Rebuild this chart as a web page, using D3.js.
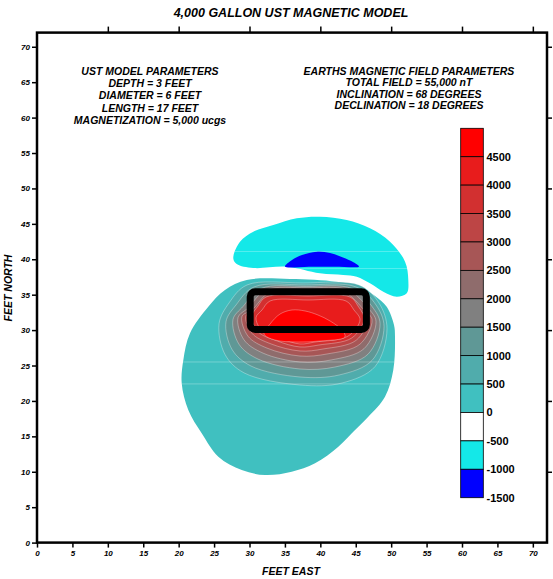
<!DOCTYPE html>
<html>
<head>
<meta charset="utf-8">
<script src="https://cdn.jsdelivr.net/npm/d3@7"></script>
<style>
body{margin:0;background:#fff;}
svg{display:block;font-family:'Liberation Sans',Arial,sans-serif;}
</style>
</head>
<body>
<div class="canvas"></div>
<script>
//texts
const title = '4,000 GALLON UST MAGNETIC MODEL';
const ustParams = ['UST MODEL PARAMETERS','DEPTH = 3 FEET','DIAMETER = 6 FEET','LENGTH = 17 FEET','MAGNETIZATION = 5,000 ucgs'];
const fieldParams = ['EARTHS MAGNETIC FIELD PARAMETERS','TOTAL FIELD = 55,000 nT','INCLINATION = 68 DEGREES','DECLINATION = 18 DEGREES'];

//axis ticks (feet)
const feetTicks = [0,5,10,15,20,25,30,35,40,45,50,55,60,65,70];
const tenTicks = [10,20,30,40,50,60,70];

//colour scale, top to bottom (nT)
const legendValues = [4500,4000,3500,3000,2500,2000,1500,1000,500,0,-500,-1000,-1500];
const legendColors = ['#ff0000','#e81c1c','#d23030','#bd4545','#a75656','#8f6c6c','#808080','#5f9896','#50acac','#40c0c0','#ffffff','#14e8e8','#0000ff'];

//contour outlines [feet east, feet north]
const contour0 = [[20.43,22.49],[20.66,25.78],[21.60,29.55],[24.18,33.30],[26.54,35.66],[29.61,37.07],[35.72,37.22],[42.31,36.83],[45.60,36.09],[47.72,34.82],[49.37,33.30],[50.40,30.72],[50.54,29.07],[50.30,24.37],[49.13,20.60],[46.77,17.77],[44.90,15.90],[42.54,13.54],[39.25,11.20],[35.96,10.01],[32.19,9.54],[28.90,10.25],[25.60,12.13],[23.25,15.43],[21.36,18.72]];
const contourNeg500 = [[27.71,40.14],[28.66,42.48],[30.54,43.89],[33.36,44.84],[36.67,45.79],[39.95,46.01],[43.72,45.55],[47.01,44.37],[49.84,42.48],[51.96,39.66],[52.42,37.07],[52.20,35.20],[50.78,34.72],[48.89,35.43],[47.01,36.61],[45.14,37.54],[43.24,37.78],[39.95,38.02],[35.25,38.95],[30.54,38.77],[28.19,39.33]];
const contourNeg1000 = [[35.01,38.98],[36.00,39.90],[37.41,40.60],[39.49,41.07],[41.37,40.89],[43.20,40.25],[44.61,39.62],[45.46,38.98],[42.00,38.96],[38.40,38.96]];
const contour500 = [[27.11,33.83],[29.65,36.37],[37.55,36.65],[45.46,36.37],[48.28,33.83],[49.41,30.17],[47.72,24.85],[43.06,22.53],[37.13,22.25],[29.22,23.97],[26.54,26.57],[25.70,30.89]];
const contour1000 = [[28.10,33.55],[30.64,36.09],[37.84,36.37],[45.04,36.09],[47.86,33.55],[48.99,30.52],[47.30,25.72],[42.64,23.66],[37.13,23.38],[30.21,24.93],[27.53,27.28],[26.68,31.17]];
const contour1500 = [[29.08,33.33],[31.63,35.87],[38.05,36.16],[44.47,35.87],[47.30,33.33],[48.43,30.92],[46.73,26.60],[42.07,24.79],[37.13,24.51],[31.20,25.91],[28.52,28.00],[27.67,31.50]];
const contour2000 = [[29.79,33.12],[32.33,35.66],[38.12,35.95],[43.91,35.66],[46.73,33.12],[47.86,31.24],[46.17,27.38],[41.51,25.78],[37.13,25.50],[31.91,26.75],[29.22,28.63],[28.38,31.77]];
const contour2500 = [[30.35,32.84],[32.90,35.38],[38.12,35.66],[43.34,35.38],[46.17,32.84],[47.30,31.47],[45.60,28.02],[40.94,26.63],[37.13,26.34],[32.47,27.46],[29.79,29.14],[28.94,31.94]];
const contour3000 = [[30.92,32.70],[33.46,35.10],[38.12,35.38],[42.78,35.10],[45.60,32.70],[46.73,31.63],[45.04,28.55],[40.38,27.33],[37.13,27.05],[33.04,28.05],[30.35,29.55],[29.51,32.05]];
const contour3500 = [[31.20,33.40],[32.33,34.67],[38.26,34.82],[44.19,34.67],[45.32,33.40],[46.17,31.57],[44.47,28.91],[39.81,27.90],[37.13,27.62],[33.88,28.48],[31.20,29.78],[30.35,31.94]];
const contour4000 = [[31.77,32.84],[32.90,34.11],[38.26,34.25],[43.63,34.11],[44.75,32.84],[45.60,31.46],[43.91,29.15],[39.25,28.32],[37.13,28.04],[34.45,28.79],[31.77,29.90],[30.92,31.77]];
const contour4500 = [[32.05,29.45],[32.90,30.86],[34.31,32.27],[36.00,32.84],[37.84,32.70],[39.67,32.13],[41.37,31.29],[43.06,30.01],[43.48,29.03],[39.95,28.46],[36.85,28.32],[33.60,28.60]];

//faint grid seams in the fill (feet north)
const seamNorth = [41.1, 38.7, 25.5, 22.4];

//tank outline (feet)
const tankEast = [30.1, 46.5];
const tankNorth = [30.1, 35.4];

const W = 553, H = 579;

var svg = d3.select('.canvas')
	.append('svg')
	.attr('width',W)
	.attr('height',H);

var x = d3.scaleLinear().domain([0,72]).range([37,547]);
var y = d3.scaleLinear().domain([0,72]).range([542.6,32.6]);

var shape = d3.line()
	.x(d=>x(d[0]))
	.y(d=>y(d[1]))
	.curve(d3.curveCatmullRomClosed.alpha(0.5));

//filled contours, lowest first
var fills = [
	{pts:contour0, color:legendColors[9], edge:false},
	{pts:contourNeg500, color:legendColors[11], edge:false},
	{pts:contourNeg1000, color:legendColors[12], edge:false},
	{pts:contour500, color:legendColors[8], edge:true},
	{pts:contour1000, color:legendColors[7], edge:true},
	{pts:contour1500, color:legendColors[6], edge:true},
	{pts:contour2000, color:legendColors[5], edge:true},
	{pts:contour2500, color:legendColors[4], edge:true},
	{pts:contour3000, color:legendColors[3], edge:true},
	{pts:contour3500, color:legendColors[2], edge:true},
	{pts:contour4000, color:legendColors[1], edge:true},
	{pts:contour4500, color:legendColors[0], edge:true}
];

svg.append('g')
	.attr('id','contours')
	.selectAll('path')
	.data(fills)
	.enter()
	.append('path')
	.attr('d',d=>shape(d.pts))
	.style('fill',d=>d.color)
	.style('stroke',d=>d.edge ? 'rgba(255,255,255,0.45)' : 'none')
	.style('stroke-width',0.7);

//seams, only where there is fill
var clip = svg.append('clipPath').attr('id','fillclip');
clip.append('path').attr('d',shape(contour0));
clip.append('path').attr('d',shape(contourNeg500));

svg.append('g')
	.attr('clip-path','url(#fillclip)')
	.selectAll('line')
	.data(seamNorth)
	.enter()
	.append('line')
	.attr('x1',x(15))
	.attr('x2',x(60))
	.attr('y1',d=>y(d))
	.attr('y2',d=>y(d))
	.style('stroke','rgba(255,255,255,0.35)')
	.style('stroke-width',0.8);

//tank
svg.append('rect')
	.attr('x',x(tankEast[0]))
	.attr('y',y(tankNorth[1]))
	.attr('width',x(tankEast[1])-x(tankEast[0]))
	.attr('height',y(tankNorth[0])-y(tankNorth[1]))
	.attr('rx',5)
	.style('fill','none')
	.style('stroke','#000')
	.style('stroke-width',7);

//axes
function styleAxis(g){
	g.select('.domain').remove();
	g.selectAll('.tick line').style('stroke','#000').style('stroke-width',1.5);
	g.selectAll('.tick text')
		.style('font-family',"'Liberation Sans',Arial,sans-serif")
		.style('font-size','8px')
		.style('font-style','italic')
		.style('font-weight','bold')
		.style('fill','#000');
}

svg.append('g')
	.attr('transform',`translate(0,${y(0)})`)
	.call(d3.axisBottom(x).tickValues(feetTicks).tickSize(5).tickPadding(3))
	.call(styleAxis);

svg.append('g')
	.attr('transform',`translate(${x(0)},0)`)
	.call(d3.axisLeft(y).tickValues(feetTicks).tickSize(5).tickPadding(2))
	.call(styleAxis);

svg.append('g')
	.attr('transform',`translate(0,${y(72)})`)
	.call(d3.axisTop(x).tickValues(tenTicks).tickSize(6).tickFormat(''))
	.call(styleAxis);

svg.append('g')
	.attr('transform',`translate(${x(72)},0)`)
	.call(d3.axisRight(y).tickValues(tenTicks).tickSize(5).tickFormat(''))
	.call(styleAxis);

//frame
svg.append('rect')
	.attr('x',x(0))
	.attr('y',y(72))
	.attr('width',x(72)-x(0))
	.attr('height',y(0)-y(72))
	.style('fill','none')
	.style('stroke','#000')
	.style('stroke-width',2.5);

//colour bar
var cb = d3.scaleLinear().domain([5000,-1500]).range([128.3,497.7]);
var cbar = svg.append('g').attr('id','colorbar');
cbar.selectAll('rect')
	.data(legendValues)
	.enter()
	.append('rect')
	.attr('x',460.7)
	.attr('y',d=>cb(d+500))
	.attr('width',22.6)
	.attr('height',d=>cb(d)-cb(d+500))
	.style('fill',(d,i)=>legendColors[i])
	.style('stroke','#000')
	.style('stroke-width',0.8);
cbar.selectAll('text')
	.data(legendValues)
	.enter()
	.append('text')
	.attr('x',486.5)
	.attr('y',d=>cb(d))
	.attr('dy','0.36em')
	.style('font-size','11px')
	.style('font-weight','bold')
	.text(d=>d);

//titles
svg.append('text')
	.attr('x',291)
	.attr('y',17)
	.attr('text-anchor','middle')
	.style('font-size','12.5px')
	.style('font-weight','bold')
	.style('font-style','italic')
	.text(title);

svg.append('g')
	.selectAll('text')
	.data(ustParams)
	.enter()
	.append('text')
	.attr('x',150)
	.attr('y',(d,i)=>75+i*12.2)
	.attr('text-anchor','middle')
	.style('font-size','10.5px')
	.style('font-weight','bold')
	.style('font-style','italic')
	.text(d=>d);

svg.append('g')
	.selectAll('text')
	.data(fieldParams)
	.enter()
	.append('text')
	.attr('x',409)
	.attr('y',(d,i)=>74.5+i*11.5)
	.attr('text-anchor','middle')
	.style('font-size','10.5px')
	.style('font-weight','bold')
	.style('font-style','italic')
	.text(d=>d);

svg.append('text')
	.attr('x',291)
	.attr('y',575)
	.attr('text-anchor','middle')
	.style('font-size','10.5px')
	.style('font-weight','bold')
	.style('font-style','italic')
	.text('FEET EAST');

svg.append('text')
	.attr('transform','translate(12,288) rotate(-90)')
	.attr('text-anchor','middle')
	.style('font-size','10.5px')
	.style('font-weight','bold')
	.style('font-style','italic')
	.text('FEET NORTH');
</script>
</body>
</html>
